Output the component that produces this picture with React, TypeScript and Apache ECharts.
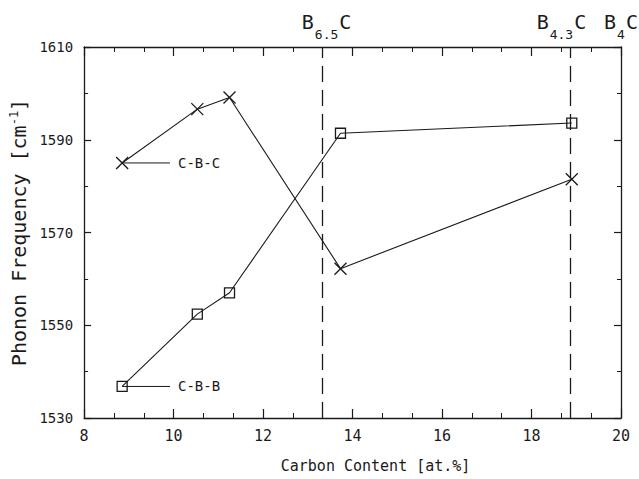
import { useEffect, useRef } from "react";
import * as echarts from "echarts";

const carbonContent = [8.85, 10.53, 11.25, 13.73, 18.9];
const cbcFrequency = [1585, 1596.6, 1599.1, 1562.2, 1581.5];
const cbbFrequency = [1536.8, 1552.4, 1557, 1591.4, 1593.6];
const phaseCarbon = [13.33, 18.87, 20];
const phaseSubscripts = ["6.5", "4.3", "4"];
const phaseDashed = [true, true, false];
const labelLineEnd = 9.92;
const seriesNames = ["C-B-C", "C-B-B"];

const FONT = "DejaVu Sans Mono";
const INK = "#1a1a1a";

export default function App() {
  const ref = useRef<HTMLDivElement>(null);
  useEffect(() => {
    if (!ref.current) return;
    const chart = echarts.init(ref.current, null, { renderer: "svg" });

    const mkX = (pos: "bottom" | "top", labels: boolean) => ({
      type: "value",
      position: pos,
      min: 8,
      max: 20,
      interval: 2,
      name: labels ? "Carbon Content [at.%]" : "",
      nameLocation: "middle",
      nameGap: 40,
      nameTextStyle: { fontFamily: FONT, fontSize: 15, color: INK, padding: [0, 0, 0, 46] },
      axisLine: { show: true, onZero: false, lineStyle: { color: INK, width: 1.3 } },
      axisTick: { show: true, inside: true, length: 9, lineStyle: { color: INK, width: 1.2 } },
      minorTick: { show: true, splitNumber: 3, length: 5, lineStyle: { color: INK, width: 1 } },
      axisLabel: { show: labels, fontFamily: FONT, fontSize: 15, color: INK, margin: 10 },
      splitLine: { show: false },
    });
    const mkY = (pos: "left" | "right", labels: boolean) => ({
      type: "value",
      position: pos,
      min: 1530,
      max: 1610,
      interval: 20,
      name: labels ? "Phonon Frequency [cm{sup|-1}]" : "",
      nameLocation: "middle",
      nameGap: 46,
      nameTextStyle: {
        fontFamily: FONT,
        fontSize: 20,
        color: INK,
        padding: [0, 0, 0, 0],
        rich: { sup: { fontFamily: FONT, fontSize: 12, color: INK, verticalAlign: "top", padding: [0, 0, 9, 0] } },
      },
      axisLine: { show: true, onZero: false, lineStyle: { color: INK, width: 1.3 } },
      axisTick: { show: true, inside: true, length: 7, lineStyle: { color: INK, width: 1.2 } },
      minorTick: { show: true, splitNumber: 2, length: 4, lineStyle: { color: INK, width: 1 } },
      axisLabel: {
        show: labels,
        fontFamily: FONT,
        fontSize: 14,
        color: INK,
        margin: 11,
        formatter: (v: number) => String(v),
      },
      splitLine: { show: false },
    });

    const crossSymbol = "path://M0 0L10 10M10 0L0 10";
    const cbcData = carbonContent.map((x, i) => [x, cbcFrequency[i]]);
    const cbbData = carbonContent.map((x, i) => [x, cbbFrequency[i]]);

    const labelOffsets = [4, -9, 0];
    const markData = phaseCarbon.map((x, i) => ({
      xAxis: x,
      lineStyle: phaseDashed[i]
        ? { color: INK, width: 1.3, type: [16, 8] }
        : { color: "rgba(0,0,0,0)", width: 1 },
      label: {
        show: true,
        position: "end",
        distance: 1,
        color: INK,
        offset: [labelOffsets[i], -10],
        formatter: `{b|B}{s|${phaseSubscripts[i]}}{b|C}`,
        rich: {
          b: { fontFamily: FONT, fontSize: 20, color: INK, lineHeight: 24, verticalAlign: "top" },
          s: { fontFamily: FONT, fontSize: 13, color: INK, lineHeight: 14, verticalAlign: "top", padding: [16, 1, 0, 1] },
        },
      },
    }));

    const labelSeries = (name: string, y: number) => ({
      type: "line",
      name: name + " label",
      data: [
        [carbonContent[0], y],
        [labelLineEnd, y],
      ],
      symbol: "none",
      lineStyle: { color: INK, width: 1 },
      endLabel: { show: true, distance: 8, formatter: name, fontFamily: FONT, fontSize: 14, color: INK },
      silent: true,
      z: 1,
    });

    chart.setOption({
      animation: false,
      backgroundColor: "#ffffff",
      grid: { left: 83, right: 18, top: 47, bottom: 61, containLabel: false },
      xAxis: [mkX("bottom", true), mkX("top", false)],
      yAxis: [mkY("left", true), mkY("right", false)],
      series: [
        {
          type: "line",
          name: seriesNames[0],
          data: cbcData,
          symbol: crossSymbol,
          symbolSize: 12,
          itemStyle: { color: "transparent", borderColor: INK, borderWidth: 1.3 },
          lineStyle: { color: INK, width: 1.1 },
          z: 3,
        },
        {
          type: "line",
          name: seriesNames[1],
          data: cbbData,
          symbol: "rect",
          symbolSize: 10,
          itemStyle: { color: "transparent", borderColor: INK, borderWidth: 1.3 },
          lineStyle: { color: INK, width: 1.1 },
          z: 3,
          markLine: {
            silent: true,
            symbol: ["none", "none"],
            animation: false,
            data: markData,
          },
        },
        labelSeries(seriesNames[0], cbcFrequency[0]),
        labelSeries(seriesNames[1], cbbFrequency[0]),
      ],
    });
    return () => chart.dispose();
  }, []);
  return <div ref={ref} style={{ position: "fixed", left: 0, top: 0, width: 639, height: 479, background: "#fff" }} />;
}
